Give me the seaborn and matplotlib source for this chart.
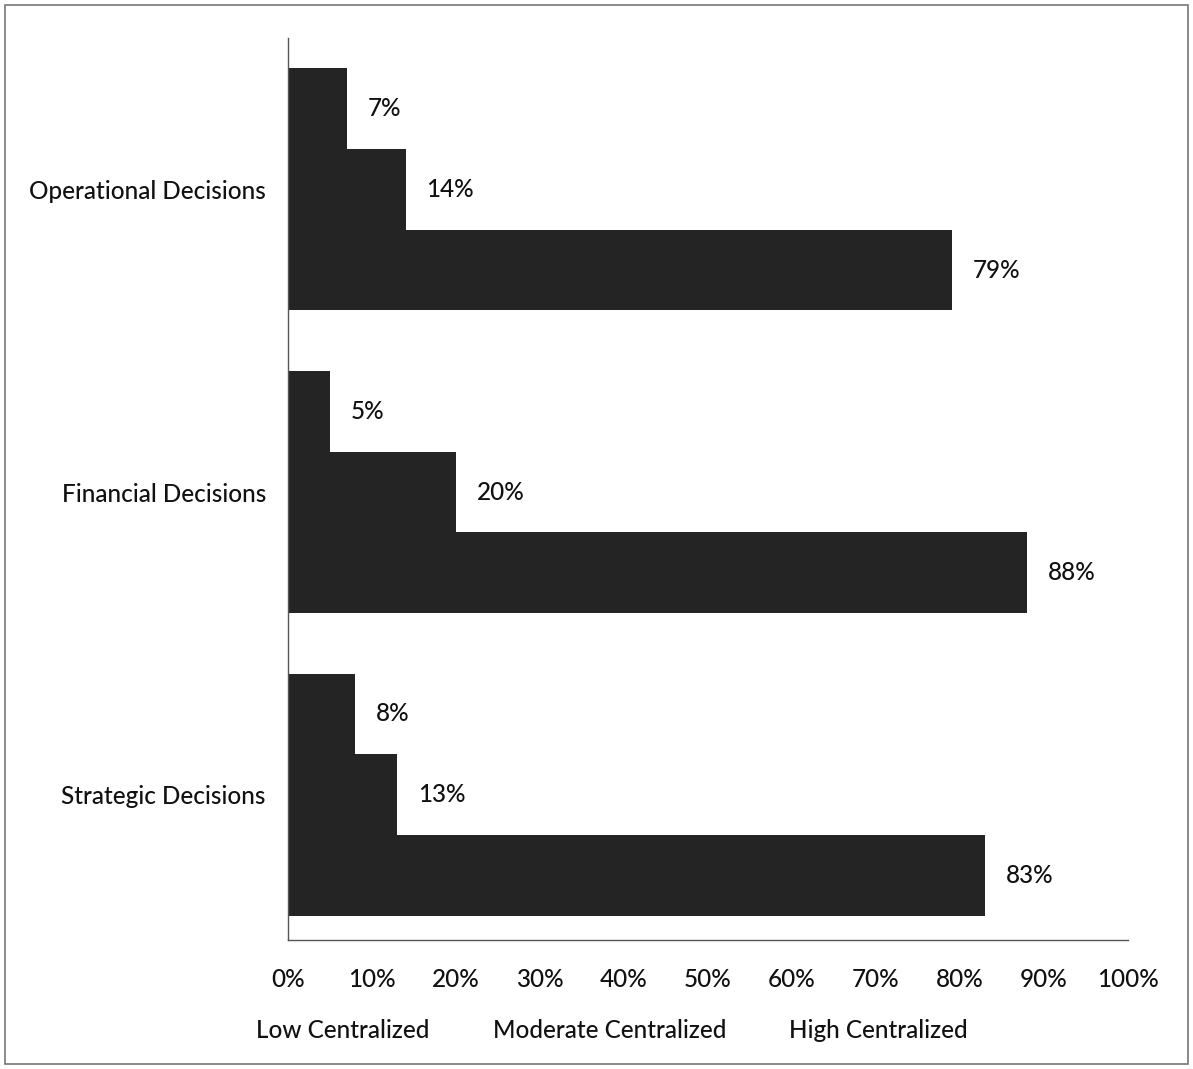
import matplotlib
matplotlib.use("Agg")
import matplotlib.pyplot as plt
import seaborn as sns
import pandas as pd
from matplotlib.patches import Rectangle

# Decision areas and centralization levels
decisions = ["Operational Decisions", "Financial Decisions", "Strategic Decisions"]
levels = ["Low Centralized", "Moderate Centralized", "High Centralized"]
low_values = [7, 5, 8]
moderate_values = [14, 20, 13]
high_values = [79, 88, 83]
x_ticks = [0, 10, 20, 30, 40, 50, 60, 70, 80, 90, 100]

rows = []
for i, d in enumerate(decisions):
    for lvl, vals in zip(levels, [low_values, moderate_values, high_values]):
        rows.append({"Decision": d, "Level": lvl, "Percent": vals[i]})
df = pd.DataFrame(rows)

sns.set_style("white")
plt.rcParams["font.family"] = ["Lato", "DejaVu Sans"]
plt.rcParams["font.weight"] = "medium"
FS = 17.5
TXT = "#111111"

fig = plt.figure(figsize=(11.93, 10.69), dpi=100)
ax = fig.add_axes([288 / 1193, 1 - 940 / 1069, (1128 - 288) / 1193, (940 - 38) / 1069])

bar_color = "#242424"
sns.barplot(data=df, y="Decision", x="Percent", hue="Level", order=decisions,
            hue_order=levels, palette=[bar_color] * 3, orient="h",
            width=0.8, saturation=1, ax=ax, legend=False, errorbar=None,
            linewidth=0, edgecolor=bar_color)

ax.set_xlim(0, 100)
ax.set_ylim(2.48, -0.5)
ax.set_xticks(x_ticks)
ax.set_xticklabels([f"{t}%" for t in x_ticks], fontsize=FS, color=TXT)
ax.tick_params(axis="x", pad=20, length=0)
ax.tick_params(axis="y", pad=16, length=0, labelsize=FS, labelcolor=TXT)
ax.set_xlabel("")
ax.set_ylabel("")
for side in ["top", "right"]:
    ax.spines[side].set_visible(False)
for side in ["left", "bottom"]:
    ax.spines[side].set_color("#555555")
    ax.spines[side].set_linewidth(1.0)

# Value labels beside each bar
for container in ax.containers:
    ax.bar_label(container, labels=[f"{v:.0f}%" for v in container.datavalues],
                 padding=15, fontsize=FS, color=TXT)

# Text-only legend row under the axis
handles = [Rectangle((0, 0), 0, 0, visible=False) for _ in levels]
leg = fig.legend(handles, levels, loc="center", bbox_to_anchor=(612 / 1193, 1 - 1031 / 1069),
                 ncol=3, frameon=False, handlelength=0, handletextpad=0,
                 columnspacing=2.6, fontsize=FS)
for t in leg.get_texts():
    t.set_color(TXT)

# Outer frame
fig.patches.append(Rectangle((5 / 1193, 5 / 1069), 1 - 10 / 1193, 1 - 10 / 1069,
                             transform=fig.transFigure, fill=False,
                             edgecolor="#777777", linewidth=1.2))

fig.savefig("out.png", dpi=100)
